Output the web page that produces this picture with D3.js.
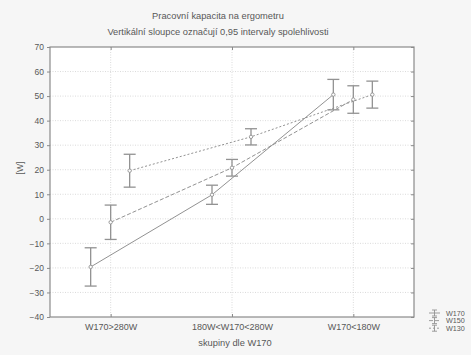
<!DOCTYPE html>
<html>
<head>
<meta charset="utf-8">
<script src="https://cdn.jsdelivr.net/npm/d3@7"></script>
<style>
  html, body { margin: 0; padding: 0; background: #f6f6f6; }
  svg { display: block; font-family: "Liberation Sans", Arial, sans-serif; }
</style>
</head>
<body>
<svg id="chart" width="471" height="355"></svg>
<script>
// Groups on the x axis
const categories = ["W170>280W", "180W<W170<280W", "W170<180W"];
// Series names (legend order)
const seriesNames = ["W170", "W150", "W130"];
// Group means per series
const meanW170 = [-19.6, 9.8, 50.6];
const meanW150 = [-1.4, 20.8, 48.6];
const meanW130 = [19.6, 33.4, 50.6];
// Half-widths of the 0.95 confidence intervals
const ciW170 = [7.8, 3.9, 6.2];
const ciW150 = [7.0, 3.4, 5.6];
const ciW130 = [6.7, 3.3, 5.5];
// Y axis ticks
const yTicks = [-40, -30, -20, -10, 0, 10, 20, 30, 40, 50, 60, 70];

const series = [
  { name: seriesNames[0], mean: meanW170, ci: ciW170, dash: null, shift: -20 },
  { name: seriesNames[1], mean: meanW150, ci: ciW150, dash: "4,2", shift: 0 },
  { name: seriesNames[2], mean: meanW130, ci: ciW130, dash: "2,2", shift: 19 }
];

const svg = d3.select("#chart");
const margin = { left: 50, right: 57, top: 47, bottom: 38 };
const W = 471, H = 355;
const x0 = margin.left, x1 = W - margin.right;
const y0 = H - margin.bottom, y1 = margin.top;

const x = d3.scalePoint().domain(categories).range([x0, x1]).padding(0.5);
const y = d3.scaleLinear().domain([-40, 70]).range([y0, y1]);

const axisCol = "#8a8a8a";
const lineCol = "#929292";
const textCol = "#585858";

// plot background
svg.append("rect").attr("x", x0).attr("y", y1)
  .attr("width", x1 - x0).attr("height", y0 - y1).attr("fill", "#fff");

// grid
const grid = svg.append("g").attr("stroke", "#d2d2d2").attr("stroke-width", 0.8)
  .attr("stroke-dasharray", "1,1.5");
grid.selectAll("line.h").data(yTicks.filter(t => t > -40 && t < 70)).join("line")
  .attr("x1", x0).attr("x2", x1).attr("y1", d => y(d)).attr("y2", d => y(d));
grid.selectAll("line.v").data(categories).join("line")
  .attr("x1", d => x(d)).attr("x2", d => x(d)).attr("y1", y1).attr("y2", y0);

// axes
const yAxis = d3.axisLeft(y).tickValues(yTicks).tickSize(3).tickPadding(3);
const gy = svg.append("g").attr("transform", `translate(${x0},0)`).call(yAxis);
const yRight = d3.axisLeft(y).tickValues(yTicks).tickSize(3).tickFormat("");
const gyr = svg.append("g").attr("transform", `translate(${x1},0)`).call(yRight);
const xAxis = d3.axisBottom(x).tickSize(3).tickPadding(4);
const gx = svg.append("g").attr("transform", `translate(0,${y0})`).call(xAxis);
const xTop = d3.axisBottom(x).tickSize(3).tickFormat("");
const gxt = svg.append("g").attr("transform", `translate(0,${y1})`).call(xTop);
[gy, gyr, gx, gxt].forEach(g => {
  g.select(".domain").remove();
  g.selectAll(".tick line").attr("stroke", axisCol);
  g.selectAll("text").attr("fill", textCol).attr("font-size", 8.5)
    .attr("font-family", "Liberation Sans, Arial, sans-serif");
});
gx.selectAll("text").attr("font-size", 9);
gx.selectAll(".tick line").attr("y2", -3);

// frame
svg.append("rect").attr("x", x0).attr("y", y1)
  .attr("width", x1 - x0).attr("height", y0 - y1)
  .attr("fill", "none").attr("stroke", axisCol).attr("stroke-width", 1.2);

// series lines, error bars, markers
series.forEach(s => {
  const pts = categories.map((c, i) => ({ x: x(c) + s.shift, m: s.mean[i], e: s.ci[i] }));
  const g = svg.append("g");
  g.append("path").datum(pts)
    .attr("d", d3.line().x(d => d.x).y(d => y(d.m)))
    .attr("fill", "none").attr("stroke", lineCol).attr("stroke-width", 1)
    .attr("stroke-dasharray", s.dash);
  const eb = g.selectAll("g.eb").data(pts).join("g")
    .attr("stroke", lineCol).attr("stroke-width", 1.3);
  eb.append("line").attr("x1", d => d.x).attr("x2", d => d.x)
    .attr("y1", d => y(d.m - d.e)).attr("y2", d => y(d.m + d.e));
  eb.append("line").attr("x1", d => d.x - 6).attr("x2", d => d.x + 6)
    .attr("y1", d => y(d.m + d.e)).attr("y2", d => y(d.m + d.e));
  eb.append("line").attr("x1", d => d.x - 6).attr("x2", d => d.x + 6)
    .attr("y1", d => y(d.m - d.e)).attr("y2", d => y(d.m - d.e));
  g.selectAll("circle").data(pts).join("circle")
    .attr("cx", d => d.x).attr("cy", d => y(d.m)).attr("r", 1.7)
    .attr("fill", "#fff").attr("stroke", lineCol).attr("stroke-width", 0.9);
});

// titles
svg.append("text").attr("x", 218).attr("y", 19).attr("text-anchor", "middle")
  .attr("font-size", 9.3).attr("fill", textCol).text("Pracovní kapacita na ergometru");
svg.append("text").attr("x", 218).attr("y", 35).attr("text-anchor", "middle")
  .attr("font-size", 9.3).attr("fill", textCol)
  .text("Vertikální sloupce označují 0,95 intervaly spolehlivosti");
svg.append("text").attr("x", 235).attr("y", 346).attr("text-anchor", "middle")
  .attr("font-size", 9.3).attr("fill", textCol).text("skupiny dle W170");
svg.append("text").attr("transform", "translate(23,168) rotate(-90)")
  .attr("text-anchor", "middle").attr("font-size", 8.5).attr("fill", textCol).text("[W]");

// legend
const rowH = 7.6;
const lg = svg.append("g").attr("transform", "translate(429,313)");
series.forEach((s, i) => {
  const row = lg.append("g").attr("transform", `translate(0,${i * rowH})`)
    .attr("stroke", lineCol).attr("stroke-width", 0.9);
  row.append("line").attr("x1", 0).attr("x2", 11).attr("y1", 0).attr("y2", 0)
    .attr("stroke-dasharray", s.dash);
  row.append("line").attr("x1", 5.5).attr("x2", 5.5).attr("y1", -3).attr("y2", 3);
  row.append("line").attr("x1", 3).attr("x2", 8).attr("y1", -3).attr("y2", -3);
  row.append("line").attr("x1", 3).attr("x2", 8).attr("y1", 3).attr("y2", 3);
  lg.append("text").attr("x", 17).attr("y", i * rowH + 2.7).attr("font-size", 7.2)
    .attr("fill", textCol).text(s.name);
});
</script>
</body>
</html>
